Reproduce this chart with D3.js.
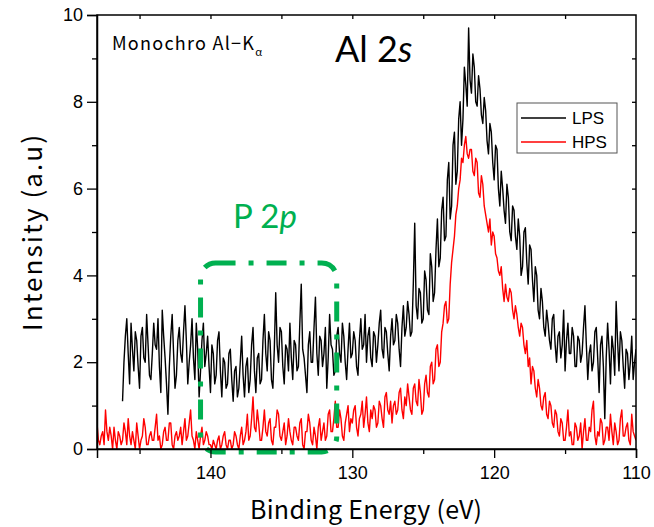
<!DOCTYPE html>
<html><head><meta charset="utf-8">
<script src="https://cdn.jsdelivr.net/npm/d3@7"></script>
<style>body{margin:0;background:#fff;} svg{display:block;}</style>
</head><body>
<svg id="chart" width="654" height="527"></svg>
<script>
// ---- data ----
const lpsStart = 146.2, hpsStart = 148.0, eStep = 0.1;
const lpsValues = [
 1.1,2.0,2.6,3.0,2.2,1.5,2.9,2.3,1.8,2.7,2.5,1.9,1.4,2.6,2.8,2.1,2.0,3.1,2.4,1.7,
 1.6,2.2,2.9,2.4,2.3,3.0,1.9,1.3,3.2,2.6,2.1,1.5,0.8,1.9,2.6,3.1,2.2,1.4,1.7,2.5,
 2.8,2.2,2.0,2.7,3.3,2.5,1.5,2.0,2.4,3.0,2.1,1.6,2.9,2.3,1.2,1.8,2.5,2.9,1.9,2.2,
 2.6,1.9,1.3,2.4,2.2,1.5,1.7,2.5,2.7,1.8,1.2,2.1,2.0,1.4,1.5,2.2,2.3,1.6,1.1,1.8,
 1.9,1.2,1.4,2.0,2.6,1.7,1.2,1.9,2.1,1.3,1.6,2.4,2.8,1.8,1.3,2.1,2.2,1.5,1.6,2.5,
 3.1,2.2,1.8,2.7,2.5,1.6,1.4,2.3,3.6,2.4,2.0,2.8,2.7,1.9,1.5,2.4,2.3,1.8,2.9,2.1,
 1.6,2.5,2.4,1.8,1.9,2.9,3.8,2.3,2.1,1.7,1.3,2.4,2.7,2.0,2.0,2.8,3.5,2.2,1.7,2.6,
 2.5,1.9,2.2,2.8,1.4,2.1,3.1,2.4,2.3,1.7,1.8,2.6,2.8,2.2,2.0,2.9,2.6,2.0,1.6,2.3,
 2.9,2.1,2.2,2.7,2.5,1.9,1.7,2.5,3.0,2.3,2.4,3.1,2.0,2.6,2.8,2.1,1.9,2.7,2.6,2.0,
 2.4,2.9,3.2,2.3,2.1,2.8,2.7,2.2,1.8,2.6,3.0,2.4,2.5,3.1,2.9,2.3,1.9,2.8,3.3,2.6,
 2.8,3.4,3.1,2.6,2.7,3.8,5.2,3.3,3.0,3.7,3.6,2.9,3.0,4.1,3.9,3.2,3.1,4.5,4.2,3.4,
 3.6,4.6,5.3,4.2,4.4,5.5,5.8,4.8,4.9,6.2,6.6,5.3,5.6,7.0,7.3,6.1,6.4,7.6,8.0,7.0,
 7.6,8.8,8.4,7.9,9.7,8.5,8.2,9.1,8.8,8.0,7.9,8.6,8.3,7.7,7.5,8.1,7.8,7.1,6.8,7.5,
 7.3,6.6,6.2,7.0,6.9,6.0,5.6,6.4,6.0,5.5,5.2,6.1,5.8,5.0,4.8,5.6,5.5,4.9,4.6,5.3,
 4.9,4.0,4.2,5.0,5.1,4.3,3.8,4.7,4.6,3.9,3.4,4.2,4.0,3.2,3.0,3.7,3.4,2.8,2.6,3.2,
 2.9,2.5,2.3,3.0,3.1,2.4,2.0,2.6,2.7,2.1,2.4,3.2,1.8,2.5,2.9,2.2,2.2,2.8,2.6,1.9,
 1.9,2.6,2.5,2.0,2.2,2.8,3.3,2.4,1.6,2.2,2.4,1.8,2.0,2.7,2.8,2.1,1.3,2.4,2.6,1.9,
 0.7,2.1,2.9,2.3,1.5,2.6,2.3,1.7,3.4,2.5,1.8,2.7,2.5,1.9,1.4,2.3,2.2,1.6,2.0,2.6,
 1.6,2.0,2.3
];
const hpsValues = [
 0.6,0.2,0.1,0.3,0.4,0.1,0.9,0.4,0.2,0.5,0.3,0.0,0.5,0.2,0.0,0.4,0.3,0.1,0.2,0.6,
 0.4,0.1,0.7,0.3,0.1,0.4,0.2,0.0,0.6,0.3,0.0,0.2,0.3,0.7,0.5,0.1,0.1,0.3,0.4,0.2,
 0.2,0.5,0.8,0.2,0.3,0.0,0.1,0.4,0.5,0.2,0.2,0.6,0.6,0.1,0.0,0.3,0.4,0.2,0.3,0.5,
 0.1,0.4,0.7,0.2,0.3,0.6,0.9,0.3,0.2,0.0,0.4,0.2,0.0,0.3,0.5,0.1,0.2,0.4,0.3,0.1,
 0.1,0.0,0.2,0.1,0.0,0.2,0.3,0.0,0.1,0.3,0.4,0.1,0.0,0.2,0.2,0.0,0.1,0.4,0.3,0.1,
 0.0,0.3,0.5,0.1,0.2,0.4,0.8,0.2,0.3,0.7,1.2,0.5,0.4,0.9,0.6,0.2,0.2,0.5,0.9,0.4,
 0.3,0.6,0.7,0.2,0.1,0.5,0.5,0.9,0.8,0.3,0.2,0.4,0.6,0.1,0.3,0.7,0.4,0.2,0.1,0.5,
 0.5,0.3,0.2,0.6,0.7,0.1,0.0,0.4,0.4,0.8,0.6,0.2,0.1,0.5,0.3,0.0,0.5,0.7,0.2,0.4,
 0.6,0.2,0.3,0.8,0.9,0.4,0.4,0.7,1.1,0.5,0.5,0.9,0.7,0.3,0.2,0.6,0.8,1.0,0.4,0.7,
 0.6,0.9,1.0,0.5,0.3,0.7,0.8,1.1,0.5,0.8,1.2,0.6,0.4,0.9,0.7,1.0,0.9,0.5,0.6,1.1,
 1.0,0.7,0.5,1.2,1.3,0.9,0.8,1.1,0.6,1.0,1.1,0.8,0.9,1.3,1.4,0.9,0.7,1.2,1.0,1.5,
 1.2,0.9,0.8,1.4,1.5,1.1,1.0,1.6,1.3,0.8,0.9,1.5,1.7,1.3,1.2,1.9,2.0,1.5,1.6,2.3,
 2.4,1.9,2.0,2.7,2.9,3.3,3.4,2.9,3.0,3.8,4.3,4.6,4.9,5.4,5.6,6.0,6.2,6.7,6.6,7.0,
 7.2,6.8,6.7,6.9,6.9,6.4,6.3,6.7,6.6,5.9,5.8,6.3,6.1,5.6,5.4,5.2,5.0,5.3,4.7,5.0,
 4.9,4.5,4.4,4.1,4.0,4.2,3.7,3.4,3.8,3.5,3.4,3.7,3.6,3.2,3.0,3.3,3.1,2.8,2.6,2.9,
 2.8,2.4,2.2,2.5,1.9,2.1,1.5,1.9,1.8,1.4,1.2,1.6,1.4,1.0,0.9,1.2,1.3,0.8,0.7,1.1,
 1.0,0.6,0.5,0.9,0.8,0.4,0.3,0.7,0.6,0.2,0.2,0.5,0.9,0.3,0.4,0.1,0.1,0.6,0.5,0.2,
 0.3,0.6,0.0,0.4,0.7,0.2,0.2,0.5,0.4,0.9,1.1,0.3,0.1,0.4,0.3,0.7,0.6,0.1,0.2,0.5,
 0.5,0.2,0.8,0.4,0.1,0.6,0.4,0.1,0.2,0.7,0.9,0.3,0.3,0.5,0.6,0.2,0.1,0.8,0.4,0.3,
 0.2
];
const seriesNames = ["LPS", "HPS"];
const seriesColors = ["#000000", "#ff0000"];
const xTicks = [140, 130, 120, 110];
const yTicks = [0, 2, 4, 6, 8, 10];
const xDomain = [148, 110];
const yDomain = [0, 10];
const peakBox = [140.7, 131.1]; // energy span of the P 2p region box

// ---- layout ----
const svg = d3.select("#chart");
const L = 97, R = 636, T = 15, B = 449;
const x = d3.scaleLinear().domain(xDomain).range([L, R]);
const y = d3.scaleLinear().domain(yDomain).range([B, T]);

const toPts = (start, vals) => vals.map((v, i) => [start - i * eStep, v]);
const series = [toPts(lpsStart, lpsValues), toPts(hpsStart, hpsValues)];

const line = d3.line().x(d => x(d[0])).y(d => y(d[1]));
svg.append("defs").append("clipPath").attr("id", "clip")
  .append("rect").attr("x", L).attr("y", T).attr("width", R - L).attr("height", B - T);

series.forEach((s, i) => {
  svg.append("path").datum(s)
    .attr("d", line).attr("fill", "none")
    .attr("stroke", seriesColors[i]).attr("stroke-width", 1.4)
    .attr("stroke-linejoin", "round")
    .attr("clip-path", "url(#clip)");
});

// green box
const bx0 = x(peakBox[0]), bx1 = x(peakBox[1]), by0 = 263, by1 = 452;
svg.append("rect")
  .attr("x", bx0).attr("y", by0).attr("width", bx1 - bx0).attr("height", by1 - by0)
  .attr("rx", 15).attr("ry", 15)
  .attr("fill", "none").attr("stroke", "#00b050").attr("stroke-width", 5)
  .attr("stroke-dasharray", "20,13,5,13");

// axes
const tickFont = "'Liberation Sans', Arial, sans-serif";
svg.append("g").attr("transform", `translate(0,${B})`)
  .call(d3.axisBottom(x).tickValues(xTicks).tickSize(9).tickFormat(d3.format("d")).tickPadding(8));
svg.append("g").attr("transform", `translate(${L},0)`)
  .call(d3.axisLeft(y).tickValues(yTicks).tickSize(10).tickFormat(d3.format("d")).tickPadding(4));
svg.append("g").attr("transform", `translate(0,${B})`)
  .call(d3.axisBottom(x).tickValues([145, 135, 125, 115]).tickSize(5).tickFormat(""))
  .call(g => g.select(".domain").remove());
svg.append("g").attr("transform", `translate(${L},0)`)
  .call(d3.axisLeft(y).tickValues([1, 3, 5, 7, 9]).tickSize(5).tickFormat(""))
  .call(g => g.select(".domain").remove());
svg.append("g").attr("transform", `translate(0,${T})`)
  .call(d3.axisBottom(x).tickValues([145, 140, 135, 130, 125, 120, 115]).tickSize(4).tickFormat(""))
  .call(g => g.select(".domain").remove());
svg.append("g").attr("transform", `translate(${R},0)`)
  .call(d3.axisLeft(y).tickValues([1, 2, 3, 4, 5, 6, 7, 8, 9]).tickSize(4).tickFormat(""))
  .call(g => g.select(".domain").remove());
svg.append("rect").attr("x", L).attr("y", T).attr("width", R - L).attr("height", B - T)
  .attr("fill", "none").attr("stroke", "#000").attr("stroke-width", 1.5);

svg.selectAll(".tick line").attr("stroke", "#000").attr("stroke-width", 1.3);
svg.selectAll(".domain").attr("stroke", "#000").attr("stroke-width", 1.5);
svg.selectAll(".tick text").attr("font-family", tickFont).attr("font-size", 18).attr("fill", "#000");

// axis titles
const jpFont = "'Noto Sans CJK JP', 'Noto Sans', sans-serif";
svg.append("text").attr("x", 250).attr("y", 519)
  .attr("font-family", jpFont).attr("font-size", 25)
  .attr("textLength", 232).attr("lengthAdjust", "spacing")
  .text("Binding Energy (eV)");
svg.append("text").attr("transform", "translate(42,331) rotate(-90)")
  .attr("font-family", jpFont).attr("font-size", 26)
  .attr("textLength", 196).attr("lengthAdjust", "spacing")
  .text("Intensity (a.u)");

// annotations
const mono = svg.append("text").attr("x", 112).attr("y", 50)
  .attr("font-family", jpFont).attr("font-size", 18);
mono.append("tspan").attr("textLength", 142).attr("lengthAdjust", "spacing").text("Monochro Al\u2212K");
mono.append("tspan").attr("dy", 6).attr("font-size", 11).text("\u03b1");

const calib = "Lato, 'Open Sans', sans-serif";
const al = svg.append("text").attr("x", 335).attr("y", 62)
  .attr("font-family", calib).attr("font-size", 36);
al.append("tspan").text("Al 2");
al.append("tspan").attr("font-style", "italic").text("s");

const p2 = svg.append("text").attr("x", 233).attr("y", 228).attr("fill", "#00b050")
  .attr("font-family", calib).attr("font-size", 33);
p2.append("tspan").text("P 2");
p2.append("tspan").attr("font-style", "italic").text("p");

// legend
const lg = svg.append("g");
lg.append("rect").attr("x", 517).attr("y", 103).attr("width", 100).attr("height", 50)
  .attr("fill", "#fff").attr("stroke", "#555").attr("stroke-width", 1);
seriesNames.forEach((n, i) => {
  const ly = 118 + i * 24;
  lg.append("line").attr("x1", 521).attr("x2", 566).attr("y1", ly).attr("y2", ly)
    .attr("stroke", seriesColors[i]).attr("stroke-width", 1.4);
  lg.append("text").attr("x", 572).attr("y", ly + 6)
    .attr("font-family", tickFont).attr("font-size", 17).text(n);
});
</script>
</body></html>
